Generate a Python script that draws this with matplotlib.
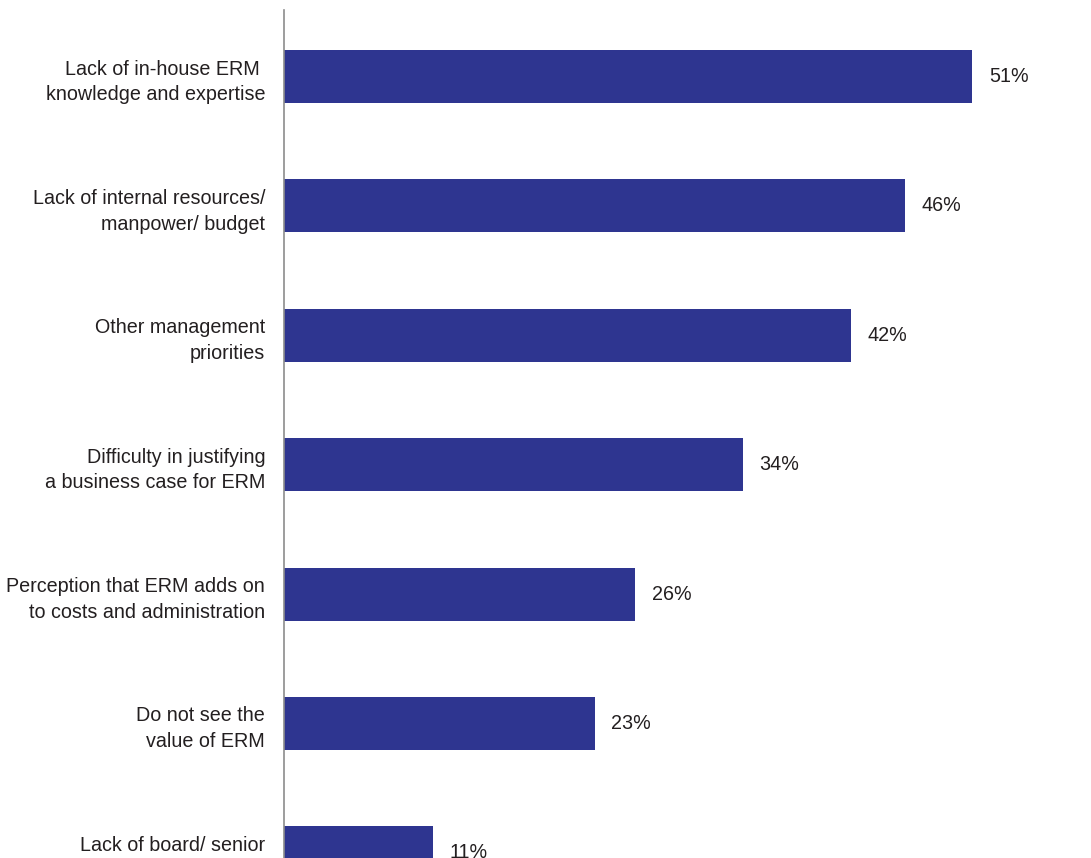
import matplotlib
matplotlib.use("Agg")
import matplotlib.pyplot as plt

categories = [
    "Lack of in-house ERM \nknowledge and expertise",
    "Lack of internal resources/\nmanpower/ budget",
    "Other management\npriorities",
    "Difficulty in justifying\na business case for ERM",
    "Perception that ERM adds on\nto costs and administration",
    "Do not see the\nvalue of ERM",
    "Lack of board/ senior\nmanagement support",
]
values = [51, 46, 42, 34, 26, 23, 11]
value_labels = ["51%", "46%", "42%", "34%", "26%", "23%", "11%"]

BAR_COLOR = "#2E3590"
TEXT_COLOR = "#231F20"

W, H = 1091, 858
fig = plt.figure(figsize=(W / 100, H / 100), dpi=100)
ax_left = 284 / W
ax = fig.add_axes([ax_left, 0.0, 1 - ax_left, 848 / H])

pos = list(range(len(categories)))
ax.barh(pos, values, height=0.41, color=BAR_COLOR, zorder=2)

px_per_unit = 13.5
ax.set_xlim(0, (W - 284) / px_per_unit)
ax.set_ylim(6.04, -0.514)

font = ["Liberation Sans", "DejaVu Sans"]
for p, v, lab in zip(pos, values, value_labels):
    ax.annotate(lab, xy=(v, p), xytext=(12, 0), textcoords="offset points",
                ha="left", va="center", fontsize=14.2, color=TEXT_COLOR,
                family=font, annotation_clip=False)

ax.set_yticks(pos)
ax.set_yticklabels(categories, fontsize=14.2, color=TEXT_COLOR, family=font,
                   linespacing=1.45)
ax.tick_params(axis="y", length=0, pad=13.5)
ax.set_xticks([])

for s in ["top", "right", "bottom"]:
    ax.spines[s].set_visible(False)
ax.spines["left"].set_color("#8C8C8C")
ax.spines["left"].set_linewidth(1.2)

fig.savefig("out.png", dpi=100)
